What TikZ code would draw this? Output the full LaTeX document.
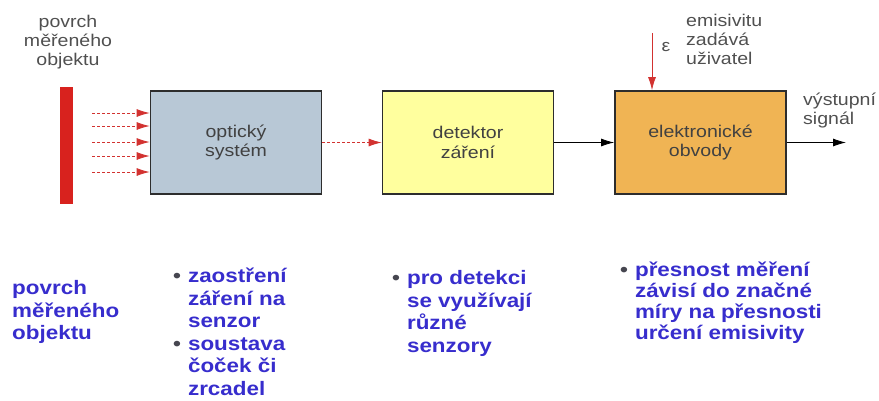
\documentclass[tikz,border=0pt]{standalone}
\usepackage{fontspec}
\setmainfont{Liberation Sans}[FakeStretch=1.15]
\usetikzlibrary{arrows.meta}

\definecolor{barred}{RGB}{216,34,30}
\definecolor{rayred}{RGB}{210,50,48}
\definecolor{optfill}{RGB}{184,200,214}
\definecolor{detfill}{RGB}{255,255,158}
\definecolor{elfill}{RGB}{240,180,84}
\definecolor{boxline}{RGB}{45,45,45}
\definecolor{boxtext}{RGB}{65,65,65}
\definecolor{lblgray}{RGB}{80,80,80}
\definecolor{noteblue}{RGB}{55,45,205}
\definecolor{dotgray}{RGB}{70,70,80}

\tikzset{
	block/.style={draw=boxline, line width=1.8pt, minimum width=171pt, minimum height=103pt,
		align=center, inner sep=0pt, text=boxtext, font=\fontsize{17}{20}\selectfont},
	ray/.style={draw=rayred, line width=0.8pt, dash pattern=on 3pt off 2pt, -{Latex[length=13pt,width=8pt]}},
	wire/.style={draw=black, line width=0.8pt, -{Latex[length=13pt,width=8pt]}},
	toplbl/.style={inner sep=0pt, text=lblgray, align=left, font=\fontsize{17}{19}\selectfont},
	note/.style={inner sep=0pt, anchor=north west, text=noteblue, font=\bfseries\fontsize{19.5}{22.5}\selectfont}
}
\newcommand{\dotitem}{\textcolor{dotgray}{•}}

\begin{document}
\begin{tikzpicture}[x=1pt,y=-1pt]
	\useasboundingbox (0,0) rectangle (879,400);

	% measured object and blocks
	\node[fill=barred, minimum width=13pt, minimum height=117pt, inner sep=0pt] (bar) at (66.5,145.5) {};
	\node[block, fill=optfill] (optic) at (236,142.5) {optický\\systém};
	\node[block, fill=detfill] (det) at (468,142.5) {detektor\\záření};
	\node[block, fill=elfill] (elec) at (700.5,142.5) {elektronické\\obvody};

	% radiation from the surface
	\foreach \y [count=\i] in {113,126,142,156,172} {
		\coordinate (src\i) at (92,\y);
		\draw[ray] (src\i) -- (src\i -| optic.west);
	}
	\draw[ray] (optic) -- (det);
	\draw[wire] (det) -- (elec);
	\coordinate (out) at (846,142.5);
	\draw[wire] (elec) -- (out);

	\coordinate (epsin) at (652,33);
	\draw[draw=rayred, line width=0.8pt, -{Latex[length=13pt,width=8pt]}] (epsin) -- (epsin |- elec.north);

	\node[toplbl, anchor=north, align=center] (srclbl) at (68,15) {povrch\\měřeného\\objektu};
	\node[toplbl, anchor=north west] (emislbl) at (686,14) {emisivitu\\zadává\\uživatel};
	\node[toplbl, font=\fontsize{17}{19}\selectfont] (eps) at (666,47) {ε};
	\node[toplbl, anchor=north west] (outlbl) at (803,93) {výstupní\\signál};

	% notes below
	\node[note] (note1) at (12,279) {\begin{tabular}{@{}l@{}}povrch\\měřeného\\objektu\end{tabular}};
	\node[note] (note2) at (173,267) {\begin{tabular}{@{}l@{\hspace{7pt}}l@{}}
		\dotitem & zaostření\\ & záření na\\ & senzor\\
		\dotitem & soustava\\ & čoček či\\ & zrcadel\end{tabular}};
	\node[note] (note3) at (392,269) {\begin{tabular}{@{}l@{\hspace{7pt}}l@{}}
		\dotitem & pro detekci\\ & se využívají\\ & různé\\ & senzory\end{tabular}};
	\node[note, font=\bfseries\fontsize{19.5}{21}\selectfont] (note4) at (620,262) {\begin{tabular}{@{}l@{\hspace{7pt}}l@{}}
		\dotitem & přesnost měření\\ & závisí do značné\\ & míry na přesnosti\\ & určení emisivity\end{tabular}};
\end{tikzpicture}
\end{document}
